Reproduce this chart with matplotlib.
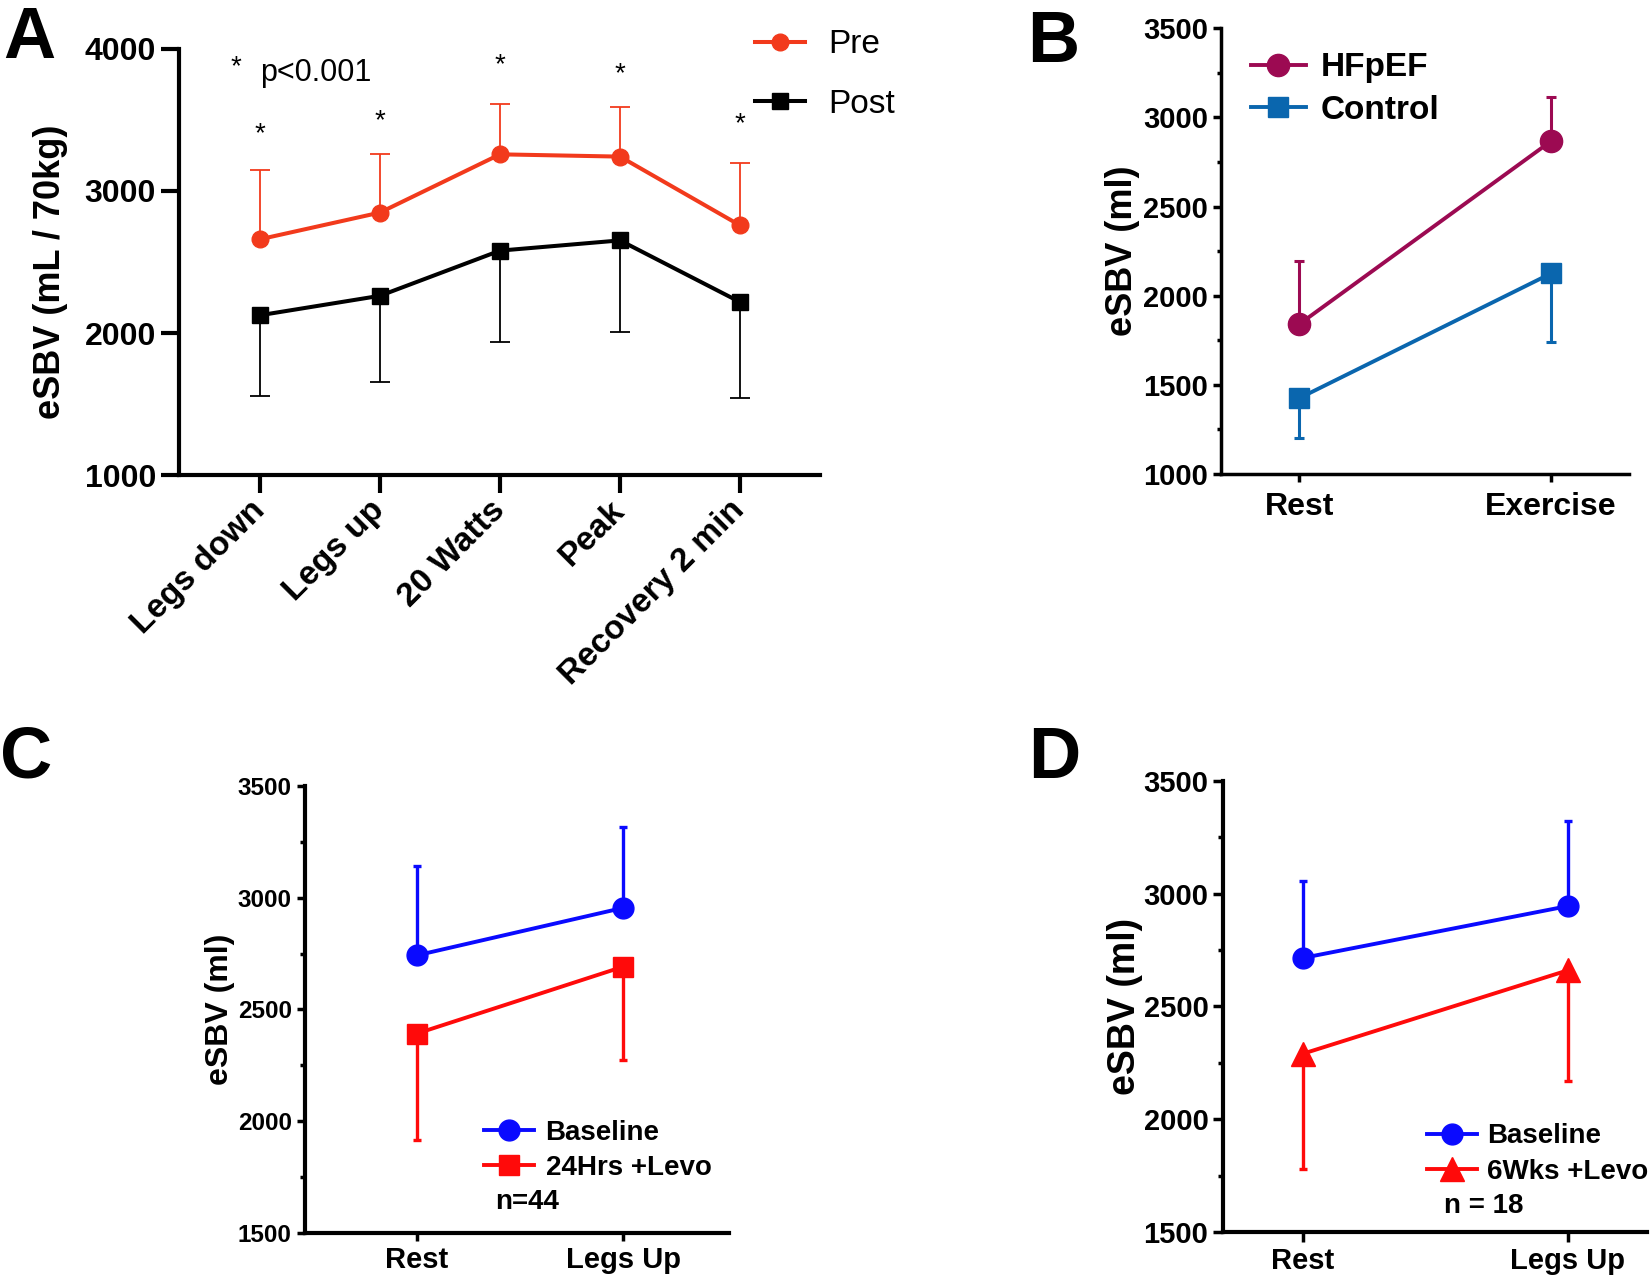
import numpy as np
import matplotlib.pyplot as plt
from matplotlib.ticker import MultipleLocator

plt.rcParams['font.family'] = ['Liberation Sans', 'DejaVu Sans']
plt.rcParams['font.weight'] = 'bold'
plt.rcParams['axes.labelweight'] = 'bold'

# Panel A
a_cats = ['Legs down', 'Legs up', '20 Watts', 'Peak', 'Recovery 2 min']
a_pre = [2660, 2848, 3258, 3242, 2758]
a_pre_top = [3150, 3262, 3615, 3592, 3200]
a_post = [2125, 2262, 2580, 2652, 2218]
a_post_bottom = [1558, 1655, 1940, 2005, 1542]
a_star_y = [3400, 3490, 3885, 3820, 3470]

# Panel B
b_cats = ['Rest', 'Exercise']
b_hfpef = [1840, 2867]
b_hfpef_top = [2197, 3115]
b_control = [1425, 2125]
b_control_bottom = [1203, 1743]

# Panel C
c_cats = ['Rest', 'Legs Up']
c_base = [2742, 2955]
c_base_top = [3143, 3318]
c_levo = [2392, 2692]
c_levo_bottom = [1918, 2272]

# Panel D
d_cats = ['Rest', 'Legs Up']
d_base = [2715, 2945]
d_base_top = [3055, 3322]
d_levo = [2290, 2660]
d_levo_bottom = [1780, 2168]

RED_A = '#f23a1c'
HF = '#9c0a52'
CTRL = '#0a66ae'
BLUE = '#0a0aff'
RED = '#ff0a0a'


def err(ax, x, mean, end, color, lw, cap):
    ax.vlines(x, mean, end, colors=color, lw=lw, zorder=2)
    ax.plot(x, end, ls='none', marker='_', ms=cap, mew=lw, color=color, zorder=2)


def style(ax, lw):
    for s in ['top', 'right']:
        ax.spines[s].set_visible(False)
    for s in ['left', 'bottom']:
        ax.spines[s].set_linewidth(lw)


fig = plt.figure(figsize=(16.51, 12.78), dpi=100)

# ---- A
ax = fig.add_axes([0.1084, 0.6283, 0.3883, 0.3334])
x = np.arange(len(a_cats))
err(ax, x, a_pre, a_pre_top, RED_A, 1.3, 14)
err(ax, x, a_post, a_post_bottom, 'black', 1.3, 14)
ax.plot(x, a_pre, color=RED_A, lw=2.9, marker='o', ms=12, label='Pre', zorder=3)
ax.plot(x, a_post, color='black', lw=2.9, marker='s', ms=11, label='Post', zorder=3)
for xi, yi in zip(x, a_star_y):
    ax.text(xi, yi, '*', ha='center', va='center', fontsize=20, fontweight='normal')
ax.text(-0.2, 3870, '*', ha='center', va='center', fontsize=20, fontweight='normal')
ax.text(0.0, 3830, 'p<0.001', ha='left', va='center', fontsize=22, fontweight='normal')
ax.set_xlim(-0.675, 4.667)
ax.set_ylim(1000, 4000)
ax.set_yticks([1000, 2000, 3000, 4000])
ax.set_xticks(x)
ax.set_xticklabels(a_cats, rotation=45, ha='right', va='center', rotation_mode='anchor')
ax.tick_params(axis='both', length=13, width=3, labelsize=23)
ax.tick_params(axis='x', labelsize=24, pad=9)
ax.set_ylabel('eSBV (mL / 70kg)', fontsize=26, labelpad=12)
ax.yaxis.label.set_y(0.477)
style(ax, 3)
ax.legend(loc='upper left', bbox_to_anchor=(0.4573, 0.977), bbox_transform=fig.transFigure,
          frameon=False, prop={'size': 24, 'weight': 'normal'}, handlelength=1.5,
          handletextpad=0.7, labelspacing=0.85, borderpad=0, borderaxespad=0)
fig.text(0.002, 0.996, 'A', fontsize=52, va='top', ha='left')

# ---- B
ax = fig.add_axes([0.7396, 0.6291, 0.2471, 0.3487])
x = np.arange(len(b_cats))
err(ax, x, b_hfpef, b_hfpef_top, HF, 2.2, 7)
err(ax, x, b_control, b_control_bottom, CTRL, 2.2, 7)
ax.plot(x, b_hfpef, color=HF, lw=2.8, marker='o', ms=16, label='HFpEF', zorder=3)
ax.plot(x, b_control, color=CTRL, lw=2.8, marker='s', ms=14, label='Control', zorder=3)
ax.set_xlim(-0.31, 1.31)
ax.set_ylim(1000, 3500)
ax.yaxis.set_major_locator(MultipleLocator(500))
ax.yaxis.set_minor_locator(MultipleLocator(250))
ax.set_xticks(x)
ax.set_xticklabels(b_cats)
ax.tick_params(axis='both', which='major', length=6, width=2.5, labelsize=21)
ax.tick_params(axis='y', which='minor', length=3, width=2.5)
ax.tick_params(axis='x', labelsize=23, pad=7)
ax.set_ylabel('eSBV (ml)', fontsize=26, labelpad=2)
style(ax, 2.5)
ax.legend(loc='upper left', bbox_to_anchor=(0.7577, 0.959), bbox_transform=fig.transFigure,
          frameon=False, prop={'size': 24, 'weight': 'bold'}, handlelength=1.65,
          handletextpad=0.45, labelspacing=0.35, borderpad=0, borderaxespad=0)
fig.text(0.622, 0.993, 'B', fontsize=52, va='top', ha='left')

# ---- C
ax = fig.add_axes([0.1847, 0.0352, 0.2568, 0.3498])
x = np.arange(len(c_cats))
err(ax, x, c_base, c_base_top, BLUE, 2.4, 6)
err(ax, x, c_levo, c_levo_bottom, RED, 2.4, 6)
ax.plot(x, c_base, color=BLUE, lw=2.8, marker='o', ms=15, label='Baseline', zorder=3)
ax.plot(x, c_levo, color=RED, lw=2.8, marker='s', ms=14, label='24Hrs +Levo', zorder=3)
ax.set_xlim(-0.54, 1.51)
ax.set_ylim(1500, 3500)
ax.yaxis.set_major_locator(MultipleLocator(500))
ax.yaxis.set_minor_locator(MultipleLocator(250))
ax.set_xticks(x)
ax.set_xticklabels(c_cats)
ax.tick_params(axis='both', which='major', length=6, width=2.5, labelsize=17.5)
ax.tick_params(axis='y', which='minor', length=3.5, width=2.5)
ax.tick_params(axis='x', labelsize=21)
ax.set_ylabel('eSBV (ml)', fontsize=23, labelpad=2)
style(ax, 3)
ax.legend(loc='upper left', bbox_to_anchor=(0.2934, 0.124), bbox_transform=fig.transFigure,
          frameon=False, prop={'size': 20, 'weight': 'bold'}, handlelength=1.8,
          handletextpad=0.4, labelspacing=0.33, borderpad=0, borderaxespad=0)
fig.text(0.2998, 0.0592, 'n=44', fontsize=20, va='center', ha='left')
fig.text(0.0, 0.433, 'C', fontsize=52, va='top', ha='left')

# ---- D
ax = fig.add_axes([0.7408, 0.0360, 0.2568, 0.3529])
x = np.arange(len(d_cats))
err(ax, x, d_base, d_base_top, BLUE, 2.4, 6)
err(ax, x, d_levo, d_levo_bottom, RED, 2.4, 6)
ax.plot(x, d_base, color=BLUE, lw=2.8, marker='o', ms=15, label='Baseline', zorder=3)
ax.plot(x, d_levo, color=RED, lw=2.8, marker='^', ms=17, label='6Wks +Levo', zorder=3)
ax.set_xlim(-0.30, 1.30)
ax.set_ylim(1500, 3500)
ax.yaxis.set_major_locator(MultipleLocator(500))
ax.yaxis.set_minor_locator(MultipleLocator(250))
ax.set_xticks(x)
ax.set_xticklabels(d_cats)
ax.tick_params(axis='both', which='major', length=7, width=2.5, labelsize=21)
ax.tick_params(axis='y', which='minor', length=3.5, width=2.5)
ax.tick_params(axis='x', labelsize=21)
ax.set_ylabel('eSBV (ml)', fontsize=27, labelpad=0.5)
style(ax, 3)
ax.legend(loc='upper left', bbox_to_anchor=(0.8643, 0.121), bbox_transform=fig.transFigure,
          frameon=False, prop={'size': 20, 'weight': 'bold'}, handlelength=1.8,
          handletextpad=0.36, labelspacing=0.33, borderpad=0, borderaxespad=0)
fig.text(0.8746, 0.0563, 'n = 18', fontsize=20, va='center', ha='left')
fig.text(0.623, 0.433, 'D', fontsize=52, va='top', ha='left')

fig.savefig('out.png', dpi=100)
